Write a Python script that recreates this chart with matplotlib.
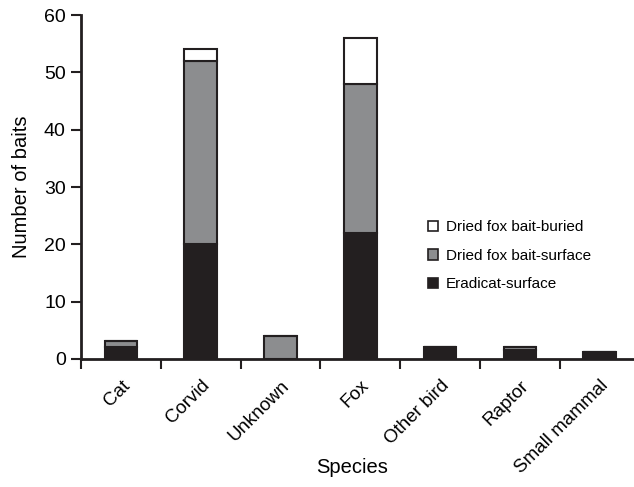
import numpy as np
import matplotlib.pyplot as plt
from matplotlib.patches import Patch

plt.rcParams["font.family"] = ["Liberation Sans", "DejaVu Sans"]

# Bait counts per species, stacked from the bottom up
species = ["Cat", "Corvid", "Unknown", "Fox", "Other bird", "Raptor", "Small mammal"]
eradicat_surface = [2, 20, 0, 22, 2, 1.5, 1.2]
dried_surface = [1.2, 32, 4, 26, 0, 0.5, 0]
dried_buried = [0, 2, 0, 8, 0, 0, 0]

series_labels = ["Eradicat-surface", "Dried fox bait-surface", "Dried fox bait-buried"]
colors = ["#231f20", "#8c8d8f", "#ffffff"]
edge = "#231f20"

fig = plt.figure(figsize=(6.34, 4.87), dpi=100)
ax = fig.add_axes([0.128, 0.263, 0.872, 0.706])

x = np.arange(len(species)) + 0.5
width = 0.41
bottom = np.zeros(len(species))
for vals, col in zip([eradicat_surface, dried_surface, dried_buried], colors):
    vals = np.array(vals, dtype=float)
    ax.bar(x, vals, width, bottom=bottom, color=col, edgecolor=edge,
           linewidth=1.5, zorder=2)
    bottom += vals

ax.set_xlim(0, 6.93)
ax.set_ylim(0, 60)
ax.set_yticks(range(0, 61, 10))
ax.set_xticks(np.arange(0, 7))
ax.set_xticklabels([])
ax.set_xticks(x, minor=True)
ax.set_xticklabels(species, minor=True, rotation=45, ha="right",
                   rotation_mode="anchor", fontsize=13.5)
ax.tick_params(axis="x", which="minor", length=0, pad=13)
ax.tick_params(axis="x", which="major", length=7, width=1.5, color=edge)
ax.tick_params(axis="y", length=7, width=1.5, color=edge, labelsize=14, pad=4)

for s in ["top", "right"]:
    ax.spines[s].set_visible(False)
for s in ["left", "bottom"]:
    ax.spines[s].set_linewidth(2)
    ax.spines[s].set_color(edge)
ax.spines["bottom"].set_clip_on(False)

ax.set_ylabel("Number of baits", fontsize=14.5, labelpad=9)
fig.text(0.555, 0.04, "Species", fontsize=14.5, ha="center", va="center")

handles = [Patch(facecolor=c, edgecolor=edge, linewidth=1.2, label=l)
           for c, l in zip(colors, series_labels)][::-1]
fig.legend(handles=handles, loc="upper left", bbox_to_anchor=(0.653, 0.576),
           frameon=False, fontsize=11, handlelength=0.7, handleheight=0.7,
           handletextpad=0.5, labelspacing=0.95)

fig.savefig("out.png", dpi=100)
